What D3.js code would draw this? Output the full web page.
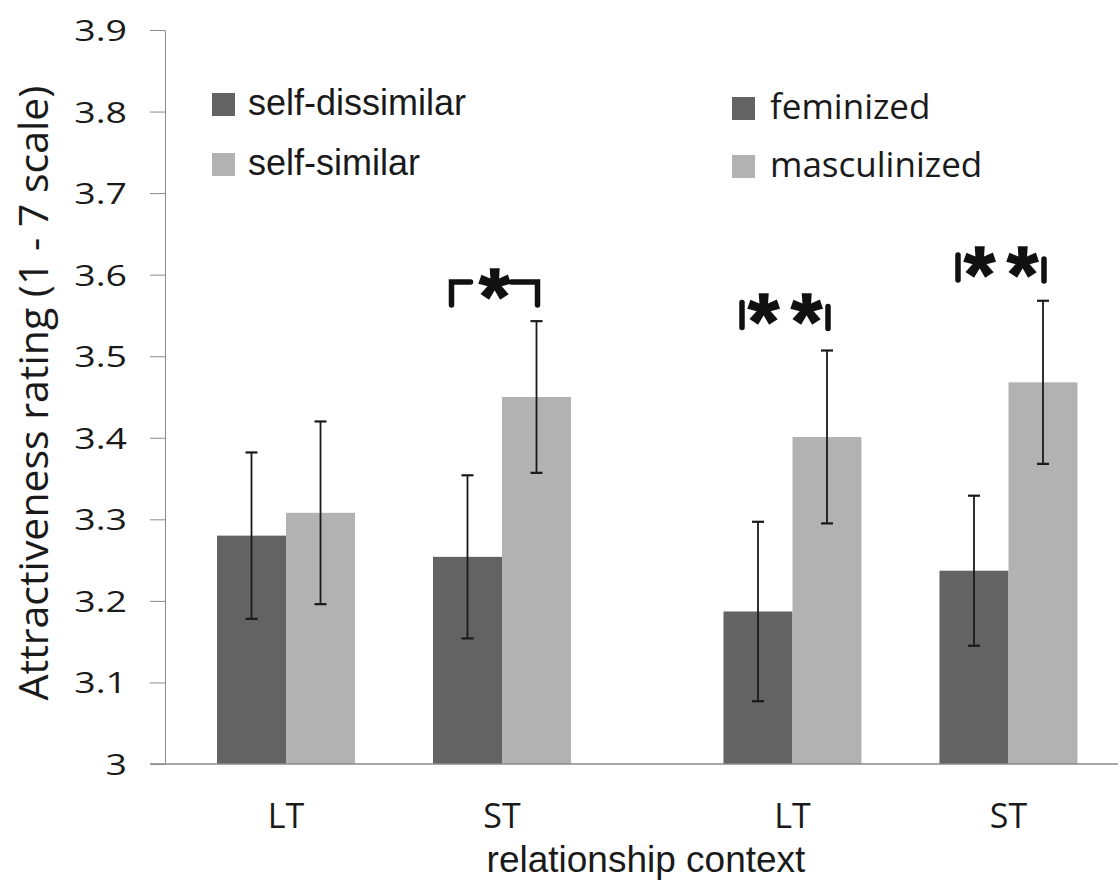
<!DOCTYPE html>
<html>
<head>
<meta charset="utf-8">
<script src="https://cdn.jsdelivr.net/npm/d3@7"></script>
<style>
  html, body { margin: 0; padding: 0; background: #fff; }
  svg { display: block; }
</style>
</head>
<body>
<svg id="chart" width="1118" height="886"></svg>
<script>
// ---------- data ----------
const panels = ["A", "B"];
const categories = ["LT", "ST"];
const seriesKeys = ["dark", "light"];
const legendLabelsA = ["self-dissimilar", "self-similar"];
const legendLabelsB = ["feminized", "masculinized"];
// values per panel, per category [LT, ST]
const darkValuesA = [3.280, 3.254];
const lightValuesA = [3.308, 3.450];
const darkErrA = [0.102, 0.100];
const lightErrA = [0.112, 0.093];
const darkValuesB = [3.187, 3.237];
const lightValuesB = [3.401, 3.468];
const darkErrB = [0.110, 0.092];
const lightErrB = [0.106, 0.100];
const yTickValues = [3, 3.1, 3.2, 3.3, 3.4, 3.5, 3.6, 3.7, 3.8, 3.9];
const yTickLabels = ["3", "3.1", "3.2", "3.3", "3.4", "3.5", "3.6", "3.7", "3.8", "3.9"];
// significance marks: panel, category, top value of bracket, label, style
const sigMarks = [
  { panel: "A", cat: "ST", top: 3.591, label: "*", style: "bracket" },
  { panel: "B", cat: "LT", top: 3.566, label: "**", style: "bars" },
  { panel: "B", cat: "ST", top: 3.624, label: "**", style: "bars" }
];

const rows = [];
panels.forEach(p => {
  const dv = p === "A" ? darkValuesA : darkValuesB;
  const lv = p === "A" ? lightValuesA : lightValuesB;
  const de = p === "A" ? darkErrA : darkErrB;
  const le = p === "A" ? lightErrA : lightErrB;
  categories.forEach((c, i) => {
    rows.push({ panel: p, cat: c, key: "dark", value: dv[i], err: de[i] });
    rows.push({ panel: p, cat: c, key: "light", value: lv[i], err: le[i] });
  });
});

// ---------- layout ----------
const W = 1118, H = 886;
const colors = { dark: "#636363", light: "#b2b2b2" };
const textColor = "#1a1a1a";
const svg = d3.select("#chart");

const y = d3.scaleLinear().domain([3, 3.9]).range([764, 30]);
const x0 = d3.scaleBand().domain(panels).range([140.75, 1153.75]).padding(0);
const x1 = d3.scaleBand().domain(categories).range([0, x0.bandwidth()])
  .paddingInner(0.361).paddingOuter(0.353);
const x2 = d3.scaleBand().domain(seriesKeys).range([0, x1.bandwidth()]).padding(0);

const barX = d => x0(d.panel) + x1(d.cat) + x2(d.key);
const barCenter = (p, c, k) => x0(p) + x1(c) + x2(k) + x2.bandwidth() / 2;

// bars
svg.append("g").selectAll("rect").data(rows).join("rect")
  .attr("x", barX)
  .attr("y", d => y(d.value))
  .attr("width", x2.bandwidth())
  .attr("height", d => y(3) - y(d.value))
  .attr("fill", d => colors[d.key]);

// error bars
const eg = svg.append("g").attr("stroke", "#1a1a1a").attr("stroke-width", 1.8);
rows.forEach(d => {
  const cx = barX(d) + x2.bandwidth() / 2;
  eg.append("line").attr("x1", cx).attr("x2", cx)
    .attr("y1", y(d.value + d.err)).attr("y2", y(d.value - d.err));
  [d.value + d.err, d.value - d.err].forEach(v => {
    eg.append("line").attr("x1", cx - 6).attr("x2", cx + 6)
      .attr("y1", y(v)).attr("y2", y(v)).attr("stroke-width", 2.2);
  });
});

// y axis
const yAxis = d3.axisLeft(y).tickValues(yTickValues)
  .tickFormat((d, i) => yTickLabels[i]).tickSize(15).tickPadding(23).tickSizeOuter(0);
const ag = svg.append("g").attr("transform", "translate(165,0)").call(yAxis);
ag.select(".domain").attr("stroke", "#8a8a8a");
ag.selectAll(".tick line").attr("stroke", "#8a8a8a");
ag.selectAll(".tick text")
  .attr("x", 0).attr("dy", null)
  .attr("transform", "translate(-38,10.5) scale(1.25,1)")
  .attr("font-family", "'Open Sans', sans-serif")
  .attr("font-size", 30)
  .attr("fill", textColor);

// x axis line
svg.append("line").attr("x1", 150).attr("x2", W).attr("y1", y(3)).attr("y2", y(3))
  .attr("stroke", "#8a8a8a").attr("stroke-width", 1.5);

// x tick labels
const xl = [];
panels.forEach(p => categories.forEach(c => xl.push({ p, c })));
svg.append("g").selectAll("text").data(xl).join("text")
  .attr("x", d => x0(d.p) + x1(d.c) + x1.bandwidth() / 2)
  .attr("y", 828)
  .attr("text-anchor", "middle")
  .attr("font-family", "'Open Sans', sans-serif")
  .attr("font-size", 34)
  .attr("fill", textColor)
  .text(d => d.c);

// axis titles
svg.append("text")
  .attr("x", 646).attr("y", 872)
  .attr("text-anchor", "middle")
  .attr("font-family", "'Liberation Sans', Arial, sans-serif")
  .attr("font-size", 37)
  .attr("fill", textColor)
  .text("relationship context");

svg.append("text")
  .attr("transform", "translate(48,393) rotate(-90)")
  .attr("text-anchor", "middle")
  .attr("font-family", "'Open Sans', sans-serif")
  .attr("font-size", 41)
  .attr("fill", textColor)
  .text("Attractiveness rating (1 - 7 scale)");

// legends
function legend(labels, x, yTop, step, font, size, textDx) {
  const g = svg.append("g");
  labels.forEach((lab, i) => {
    g.append("rect").attr("x", x).attr("y", yTop + i * step)
      .attr("width", 23).attr("height", 23).attr("fill", colors[seriesKeys[i]]);
    g.append("text").attr("x", x + textDx).attr("y", yTop + i * step + 22)
      .attr("font-family", font).attr("font-size", size).attr("fill", textColor)
      .text(lab);
  });
}
legend(legendLabelsA, 212, 93, 60, "'Liberation Sans', Arial, sans-serif", 36, 36);
legend(legendLabelsB, 732, 97, 58, "'Open Sans', sans-serif", 35, 38);

// significance marks
const sg = svg.append("g");
const starSize = 80;
sigMarks.forEach(m => {
  const left = barCenter(m.panel, m.cat, "dark") - 16;
  const right = barCenter(m.panel, m.cat, "light") + 1;
  const top = y(m.top);
  const mid = (left + right) / 2;
  const stroke = { stroke: "#111", "stroke-width": 5.5, "stroke-linecap": "round", fill: "none" };
  const apply = s => Object.entries(stroke).forEach(([k, v]) => s.attr(k, v));
  let starY;
  if (m.style === "bracket") {
    sg.append("path").attr("d", `M${left},${top + 23}V${top}H${left + 19}`).call(apply);
    sg.append("path").attr("d", `M${right - 26},${top}H${right}V${top + 23}`).call(apply);
    starY = top - 3;
  } else {
    sg.append("path").attr("d", `M${left},${top}V${top + 25}`).call(apply);
    sg.append("path").attr("d", `M${right},${top + 4}V${top + 26}`).call(apply);
    starY = top + 2;
  }
  const stars = m.label.split("");
  const gap = 43;
  stars.forEach((s, i) => {
    const cx = mid + (i - (stars.length - 1) / 2) * gap;
    sg.append("text")
      .attr("x", cx).attr("y", starY + starSize * 0.56)
      .attr("text-anchor", "middle")
      .attr("font-family", "'Liberation Sans', Arial, sans-serif")
      .attr("font-weight", "bold")
      .attr("font-size", starSize)
      .attr("fill", "#111")
      .attr("stroke", "#111")
      .attr("stroke-width", 1.5)
      .text(s);
  });
});
</script>
</body>
</html>
